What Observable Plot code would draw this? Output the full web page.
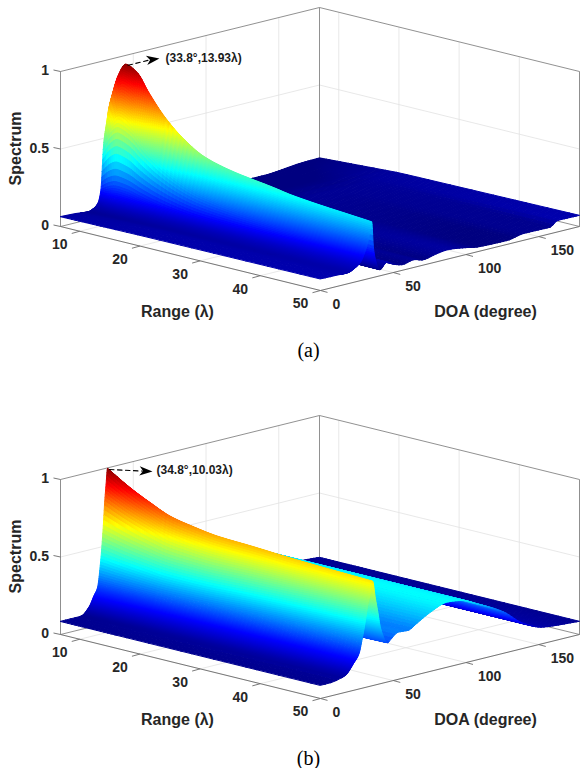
<!DOCTYPE html>
<html>
<head>
<meta charset="utf-8">
<script src="https://cdn.jsdelivr.net/npm/d3@7"></script>
<script src="https://cdn.jsdelivr.net/npm/@observablehq/plot@0.6"></script>
<style>html,body{margin:0;padding:0;background:#fff}</style>
</head>
<body>
<div id="chart"></div>
<script>
// ---- axis values
const rangeTicks = [10, 20, 30, 40, 50];
const doaTicks = [0, 50, 100, 150];
const spectrumTicks = [0, 0.5, 1];
const rangeLimits = [6.8, 50];
const doaLimits = [0, 178];

// ---- jet colour map
const jetStops = [0, 0.125, 0.375, 0.625, 0.875, 1];
const jetColors = ["#000080", "#0000ff", "#00ffff", "#ffff00", "#ff0000", "#800000"];

// ---- panel (a), values
const crestRangeA = [6.8, 8.1, 9.3, 11.1, 13.1, 15.7, 19, 22.3, 26.8, 33.9, 36.7, 50];
const crestSpectrumA = [0.73, 0.91, 0.99, 0.955, 0.84, 0.71, 0.593, 0.515, 0.467, 0.425, 0.406, 0.36];
const crestDoaA = [34.7, 35.2];
const flankOffsetA = [-40, -30, -16, -12, -9, -7, -5, -3, -1.5, 0, 1.2, 3, 5.8, 40];
const flankNearA = [0, 0, 0, 0.02, 0.06, 0.17, 0.61, 0.8, 0.93, 1, 0.6, 0.2, 0, 0];
const flankFarA = [0, 0, 0.03, 0.08, 0.13, 0.2, 0.33, 0.52, 0.75, 1, 0.44, 0.15, 0, 0];
const floorDoaA = [0, 10, 20, 27, 33, 41, 45.4, 51, 56.9, 64, 70.7, 80, 87, 101, 108, 128.5, 140, 158, 163, 178];
const floorBackA = [0.064, 0.06, 0.05, 0.05, 0.05, 0.04, 0.04, 0.03, 0.03, 0.02, 0.02, 0.015, 0.012, 0.01, 0.008, 0.005, 0.005, 0.02, 0.025, 0.03];
const floorMidA = [0.07, 0.07, 0.055, 0.05, 0.05, 0.05, 0.05, 0.05, 0.05, 0.05, 0.05, 0.05, 0.05, 0.05, 0.05, 0.05, 0.05, 0.055, 0.058, 0.06];
const floorFrontA = [0.075, 0.072, 0.063, 0.07, 0.08, 0.04, 0.077, 0.05, 0.036, 0.05, 0.034, 0.052, 0.06, 0.043, 0.03, 0.025, 0.044, 0.042, 0.074, 0.072];
const floorRangeA = [6.8, 20, 50];

// ---- panel (b), values
const crestRangeB = [6.8, 10.6, 13.9, 17.2, 20.5, 24.9, 30.4, 37, 50];
const crestSpectrumB = [0.996, 0.903, 0.837, 0.78, 0.752, 0.725, 0.713, 0.695, 0.672];
const crestDoaB = [32.3, 35.7];
const flankOffsetB = [-40, -30, -18.5, -12.7, -9.3, -6.9, -4.7, -3, -1.9, -1, 0, 2, 3.9, 5.6, 10.8, 40];
const flankNearB = [0, 0, 0, 0.05, 0.12, 0.166, 0.35, 0.58, 0.775, 0.89, 1, 0.7, 0.4, 0.2, 0, 0];
const flankFarB = [0, 0, 0.05, 0.17, 0.25, 0.42, 0.62, 0.79, 0.86, 0.93, 1, 0.72, 0.47, 0.25, 0, 0];
const floorDoaB = [0, 14, 20, 25, 30, 35, 40, 46.5, 53.4, 60.3, 66, 75.3, 87, 96, 110, 125.8, 139.6, 153.4, 178];
const floorValuesB = [0.085, 0.085, 0.09, 0.1, 0.13, 0.18, 0.23, 0.255, 0.304, 0.3, 0.33, 0.38, 0.42, 0.41, 0.35, 0.267, 0.16, 0.105, 0.085];
const floorRangeB = [6.8, 20, 50];

// ---- labels
const panelTexts = ["(a)", "(b)"];
const peakTexts = ["(33.8°,13.93λ)", "(34.8°,10.03λ)"];
const rangeTitle = "Range (λ)";
const doaTitle = "DOA (degree)";
const spectrumTitle = "Spectrum";

// ---- view of the 3-D box
const W = 581, H = 768;
const [rMin, rMax] = rangeLimits;
const [dMin, dMax] = doaLimits;
const project = (y0, d, r, z = 0) => ({
  x: 320 + d * (259 / dMax) - (rMax - r) * (260 / (rMax - rMin)),
  y: y0 - d * (64 / dMax) - (rMax - r) * (64 / (rMax - rMin)) - z * 155
});

// shading interpolation between the values read (monotone cubic)
function shade(xs, ys) {
  const n = xs.length, h = [], s = [], m = new Array(n);
  for (let i = 0; i < n - 1; i++) { h[i] = xs[i + 1] - xs[i]; s[i] = (ys[i + 1] - ys[i]) / h[i]; }
  m[0] = s[0]; m[n - 1] = s[n - 2];
  for (let i = 1; i < n - 1; i++) m[i] = s[i - 1] * s[i] <= 0 ? 0 :
    (3 * (h[i - 1] + h[i])) / ((2 * h[i] + h[i - 1]) / s[i - 1] + (h[i] + 2 * h[i - 1]) / s[i]);
  return x => {
    if (x <= xs[0]) return ys[0];
    if (x >= xs[n - 1]) return ys[n - 1];
    let i = d3.bisectRight(xs, x) - 1;
    const t = (x - xs[i]) / h[i], t2 = t * t, t3 = t2 * t;
    return (2 * t3 - 3 * t2 + 1) * ys[i] + (t3 - 2 * t2 + t) * h[i] * m[i] + (-2 * t3 + 3 * t2) * ys[i + 1] + (t3 - t2) * h[i] * m[i + 1];
  };
}
const lerp = (a, b, t) => a + (b - a) * t;

function surfaceOf({crestR, crestS, crestD, offs, near, far, floorD, floors, floorR}) {
  const crest = shade(crestR, crestS), fn = shade(offs, near), ff = shade(offs, far);
  const rows = floors.map(f => shade(floorD, f));
  const floorAt = (d, r) => {
    const k = r < floorR[1] ? 0 : 1;
    const t = (r - floorR[k]) / (floorR[k + 1] - floorR[k]);
    return lerp(rows[k](d), rows[k + 1](d), t);
  };
  const dcAt = r => lerp(crestD[0], crestD[1], (r - rMin) / (rMax - rMin));
  return (d, r) => {
    const dc = dcAt(r), t = (r - rMin) / (rMax - rMin), o = d - dc;
    return floorAt(d, r) + (crest(r) - floorAt(dc, r)) * lerp(fn(o), ff(o), t);
  };
}

const panels = [
  {y0: 290, cmin: 0.03, crestDoa: crestDoaA, peak: [34.7, 9.3, 0.99], arrowEnd: [159, 59], labelGap: 6,
   surface: surfaceOf({crestR: crestRangeA, crestS: crestSpectrumA, crestD: crestDoaA, offs: flankOffsetA, near: flankNearA, far: flankFarA, floorD: floorDoaA, floors: [floorBackA, floorMidA, floorFrontA], floorR: floorRangeA})},
  {y0: 698, cmin: 0.07, crestDoa: crestDoaB, peak: [32.3, 6.8, 0.996], arrowEnd: [152, 470.7], labelGap: 4,
   surface: surfaceOf({crestR: crestRangeB, crestS: crestSpectrumB, crestD: crestDoaB, offs: flankOffsetB, near: flankNearB, far: flankFarB, floorD: floorDoaB, floors: [floorValuesB, floorValuesB, floorValuesB], floorR: floorRangeB})}
];

// fine drawing mesh of the surface (denser on the ridge), painted back to front
const meshDoa = [...d3.range(0, 14, 3.5), ...d3.range(14, 46, 0.2), ...d3.range(46, dMax, 2), dMax];
const rangeFine = [...d3.range(rMin, 16, 0.3), ...d3.range(16, rMax, 0.6), rMax];
const rangeCoarse = [...d3.range(rMin, 16, 0.6), ...d3.range(16, rMax, 1.8), rMax];
function meshOf(p, base) {
  const cells = [];
  const dRef = (p.crestDoa[0] + p.crestDoa[1]) / 2;
  const warp = (u, r) => {
    const shift = lerp(p.crestDoa[0], p.crestDoa[1], (r - rMin) / (rMax - rMin)) - dRef;
    const w = u < dRef ? u / dRef : Math.max(0, 1 - (u - dRef) / 60);
    return u + shift * w;
  };
  for (let i = meshDoa.length - 2; i >= 0; i--) {
    const rows = meshDoa[i] >= 14 && meshDoa[i] < 46 ? rangeFine : rangeCoarse;
    for (let j = 0; j < rows.length - 1; j++) {
      const corners = [[i, j], [i + 1, j], [i + 1, j + 1], [i, j + 1]].map(([a, b]) => {
        const r = rows[b], d = warp(meshDoa[a], r), z = p.surface(d, r);
        return {...project(p.y0, d, r, z), z};
      });
      const v = (d3.mean(corners, c => c.z) - p.cmin) / (1 - p.cmin);
      const id = base + i * 1000 + j;
      corners.forEach(c => cells.push({x: c.x, y: c.y, id, v}));
    }
  }
  return cells;
}

const gridSeg = [], boxSeg = [], tickSeg = [], tickStart = [], tickMid = [], tickEnd = [], titles = [], spectrumLabel = [], peakLabels = [], panelLabels = [], arrows = [], heads = [];
const seg = (arr, a, b) => arr.push({x1: a.x, y1: a.y, x2: b.x, y2: b.y});
panels.forEach((p, k) => {
  const P = (d, r, z) => project(p.y0, d, r, z);
  for (const d of doaTicks) {
    seg(gridSeg, P(d, rMin, 0), P(d, rMax, 0));
    seg(gridSeg, P(d, rMin, 0), P(d, rMin, 1));
    const a = P(d, rMax, 0);
    seg(tickSeg, a, {x: a.x + 7, y: a.y + 1.9});
    tickStart.push({x: a.x + 12, y: a.y + 14, text: String(d)});
  }
  for (const r of rangeTicks) {
    seg(gridSeg, P(dMin, r, 0), P(dMax, r, 0));
    seg(gridSeg, P(dMax, r, 0), P(dMax, r, 1));
    const a = P(dMin, r, 0);
    seg(tickSeg, a, {x: a.x - 8, y: a.y + 2.2});
    tickMid.push({x: a.x - 20, y: a.y + 13.5, text: String(r)});
  }
  for (const z of spectrumTicks) {
    if (z > 0 && z < 1) {
      seg(gridSeg, P(dMin, rMin, z), P(dMax, rMin, z));
      seg(gridSeg, P(dMax, rMin, z), P(dMax, rMax, z));
    }
    const a = P(dMin, rMin, z);
    seg(tickSeg, a, {x: a.x - 7, y: a.y - 1.5});
    tickEnd.push({x: a.x - 11.5, y: a.y - 0.5, text: String(z)});
  }
  seg(boxSeg, P(dMin, rMin, 0), P(dMin, rMin, 1));
  seg(boxSeg, P(dMax, rMin, 0), P(dMax, rMin, 1));
  seg(boxSeg, P(dMax, rMax, 0), P(dMax, rMax, 1));
  seg(boxSeg, P(dMin, rMin, 1), P(dMax, rMin, 1));
  seg(boxSeg, P(dMax, rMin, 1), P(dMax, rMax, 1));
  seg(boxSeg, P(dMin, rMin, 0), P(dMax, rMin, 0));
  seg(boxSeg, P(dMax, rMin, 0), P(dMax, rMax, 0));
  seg(tickSeg, P(dMin, rMin, 0), P(dMin, rMax, 0));
  seg(tickSeg, P(dMin, rMax, 0), P(dMax, rMax, 0));
  const dy = p.y0 - 290;
  titles.push({x: 177, y: 311 + dy, text: rangeTitle}, {x: 485, y: 311 + dy, text: doaTitle});
  spectrumLabel.push({x: 15, y: 148 + dy, text: spectrumTitle});
  const s = P(...p.peak);
  const [ex, ey] = p.arrowEnd;
  arrows.push({x: s.x + 2, y: s.y + 1, id: k}, {x: ex - 8, y: ey, id: k});
  heads.push({x: ex - 6.5, y: ey, angle: Math.atan2(ey - s.y, ex - s.x) * 180 / Math.PI});
  peakLabels.push({x: ex + p.labelGap, y: ey - 1, text: peakTexts[k]});
  panelLabels.push({x: 308, y: 350.5 + (k ? 407.5 : 0), text: panelTexts[k]});
});

const cells = panels.flatMap((p, k) => meshOf(p, k * 1e7));
const stealth = {
  draw(ctx, size) {
    const s = Math.sqrt(size / Math.PI);
    ctx.moveTo(s, 0); ctx.lineTo(-s, -0.72 * s); ctx.lineTo(-0.45 * s, 0); ctx.lineTo(-s, 0.72 * s); ctx.closePath();
  }
};
const lineM = (data, opts) => Plot.link(data, {x1: "x1", y1: "y1", x2: "x2", y2: "y2", ...opts});
const textM = (data, opts) => Plot.text(data, {
  x: "x", y: "y", text: "text", fontWeight: "bold", fill: "#262626",
  fontFamily: "Liberation Sans", lineAnchor: "middle", ...opts
});

const chart = Plot.plot({
  width: W, height: H, margin: 0,
  style: {background: "#fff", fontFamily: "Liberation Sans"},
  x: {domain: [0, W], range: [0, W], axis: null},
  y: {domain: [0, H], range: [0, H], axis: null},
  color: {type: "linear", domain: jetStops, range: jetColors, clamp: true, legend: false},
  marks: [
    lineM(gridSeg, {stroke: "#e2e2e2", strokeWidth: 0.8}),
    lineM(boxSeg, {stroke: "#858585", strokeWidth: 0.9}),
    lineM(tickSeg, {stroke: "#6a6a6a", strokeWidth: 0.9}),
    Plot.line(cells, {x: "x", y: "y", z: "id", fill: "v", stroke: "v", strokeWidth: 1, curve: "linear-closed"}),
    Plot.line(arrows, {x: "x", y: "y", z: "id", stroke: "#000", strokeWidth: 1.1, strokeDasharray: "4.5,3.5"}),
    Plot.dot(heads, {x: "x", y: "y", r: 6.5, symbol: stealth, rotate: "angle", fill: "#000", stroke: "none"}),
    textM(tickStart, {fontSize: 14, textAnchor: "start"}),
    textM(tickMid, {fontSize: 14, textAnchor: "middle"}),
    textM(tickEnd, {fontSize: 14, textAnchor: "end"}),
    textM(titles, {fontSize: 16, textAnchor: "middle"}),
    textM(spectrumLabel, {fontSize: 16, textAnchor: "middle", rotate: -90}),
    textM(peakLabels, {fontSize: 12, textAnchor: "start", fill: "#1a1a1a"}),
    textM(panelLabels, {fontSize: 20, textAnchor: "middle", fontWeight: "normal", fontFamily: "Liberation Serif", fill: "#000"})
  ]
});
document.getElementById("chart").append(chart);
</script>
</body>
</html>
